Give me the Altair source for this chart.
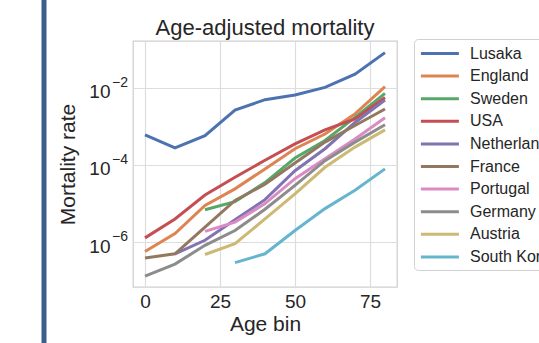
import altair as alt
import pandas as pd

ages = [0, 10, 20, 30, 40, 50, 60, 70, 80]
countries = ["Lusaka", "England", "Sweden", "USA", "Netherlands",
             "France", "Portugal", "Germany", "Austria", "South Korea"]
colors = ["#4C72B0", "#DD8452", "#55A868", "#C44E52", "#8172B3",
          "#937860", "#DA8BC3", "#8C8C8C", "#CCB974", "#64B5CD"]

lusaka = [6.0e-4, 2.75e-4, 5.75e-4, 2.63e-3, 4.9e-3, 6.5e-3, 1.02e-2, 2.24e-2, 8.1e-2]
england = [5.75e-7, 1.66e-6, 8.9e-6, 2.4e-5, 7.9e-5, 2.63e-4, 6.3e-4, 2.1e-3, 1.07e-2]
sweden = [None, None, 6.9e-6, 1.12e-5, 3.5e-5, 1.51e-4, 4.3e-4, 1.7e-3, 7.1e-3]
usa = [1.29e-6, 4.0e-6, 1.66e-5, 4.8e-5, 1.32e-4, 3.5e-4, 8.1e-4, 1.55e-3, 5.6e-3]
netherlands = [None, 5.0e-7, 1.12e-6, 3.8e-6, 1.26e-5, 7.1e-5, 2.63e-4, 1.26e-3, 4.8e-3]
france = [3.9e-7, 5.0e-7, 2.45e-6, 1.2e-5, 3.16e-5, 1.12e-4, 3.9e-4, 1.05e-3, 2.8e-3]
portugal = [None, None, 1.9e-6, 3.3e-6, 1.0e-5, 4.4e-5, 1.45e-4, 4.7e-4, 1.66e-3]
germany = [1.32e-7, 2.7e-7, 8.3e-7, 2.0e-6, 7.1e-6, 2.95e-5, 1.29e-4, 3.9e-4, 1.1e-3]
austria = [None, None, 4.8e-7, 9.1e-7, 4.0e-6, 1.78e-5, 8.7e-5, 2.9e-4, 8.1e-4]
south_korea = [None, None, None, 2.95e-7, 5.0e-7, 2.0e-6, 7.4e-6, 2.2e-5, 7.9e-5]

series = [lusaka, england, sweden, usa, netherlands,
          france, portugal, germany, austria, south_korea]

title_text = "Age-adjusted mortality"
x_ticks = [0, 25, 50, 75]
y_ticks = [1e-6, 1e-4, 1e-2]
y_tick_base = "10"
y_tick_exponents = ["\u22126", "\u22124", "\u22122"]

rows = []
for name, vals in zip(countries, series):
    for a, v in zip(ages, vals):
        if v is not None:
            rows.append({"Age bin": a, "Mortality rate": v, "country": name})
df = pd.DataFrame(rows)
exp_df = pd.DataFrame({"Mortality rate": y_ticks, "exp": y_tick_exponents})

FONT = "Liberation Sans"
TXT = "#262626"

y_scale = alt.Scale(type="log", domain=[6.9e-8, 0.162], nice=False)

lines = alt.Chart(df).mark_line(strokeWidth=3, clip=True).encode(
    x=alt.X("Age bin:Q",
            scale=alt.Scale(domain=[-4, 84], nice=False, zero=False),
            axis=alt.Axis(values=x_ticks, title="Age bin", labelFontSize=19,
                          titleFontSize=21, labelPadding=5, titlePadding=2,
                          ticks=False, domain=False, gridColor="#dddddd",
                          gridWidth=1.2, labelColor=TXT, titleColor=TXT,
                          titleFontWeight="normal", labelFont=FONT, titleFont=FONT)),
    y=alt.Y("Mortality rate:Q", scale=y_scale,
            axis=alt.Axis(values=y_ticks, labelExpr=f"'{y_tick_base}'",
                          title="Mortality rate",
                          labelFontSize=19, titleFontSize=21, labelPadding=23,
                          labelOffset=4, labelBaseline="middle",
                          titlePadding=10, ticks=False, domain=False,
                          gridColor="#dddddd", gridWidth=1.2, labelColor=TXT,
                          titleColor=TXT, titleFontWeight="normal",
                          labelFont=FONT, titleFont=FONT)),
    color=alt.Color("country:N",
                    scale=alt.Scale(domain=countries, range=colors),
                    legend=alt.Legend(title=None, orient="none", legendX=281, legendY=-2,
                                      symbolType="M-1,0H4", symbolStrokeWidth=3,
                                      symbolSize=231, labelFontSize=16, labelFont=FONT,
                                      labelColor=TXT, rowPadding=4.6, padding=5,
                                      strokeColor="#d0d0d0", cornerRadius=4,
                                      fillColor="white", labelOffset=32,
                                      labelLimit=300)),
    order=alt.Order("Age bin:Q"),
)

exps = alt.Chart(exp_df).mark_text(
    align="left", baseline="middle", fontSize=14, font=FONT, color=TXT, dy=-5
).encode(
    x=alt.value(-21),
    y=alt.Y("Mortality rate:Q", scale=y_scale),
    text="exp:N",
)

title = alt.Chart(pd.DataFrame({"t": [title_text]})).mark_text(
    align="center", baseline="alphabetic", fontSize=22, font=FONT, color=TXT
).encode(x=alt.value(132), y=alt.value(-6), text="t:N")

bar = alt.Chart(pd.DataFrame({"k": [0]})).mark_rule(
    color="#3b5e8c", strokeWidth=5
).encode(x=alt.value(-89), y=alt.value(-41), y2=alt.value(302))

chart = alt.layer(lines, exps, title, bar).properties(
    width=264, height=246,
    autosize=alt.AutoSizeParams(type="none"),
    padding={"left": 133, "top": 41, "right": 142, "bottom": 56},
).configure_view(stroke="#d0d0d0", strokeWidth=1.3)

chart.save("out.html", embed_options={"renderer": "svg", "actions": False})
